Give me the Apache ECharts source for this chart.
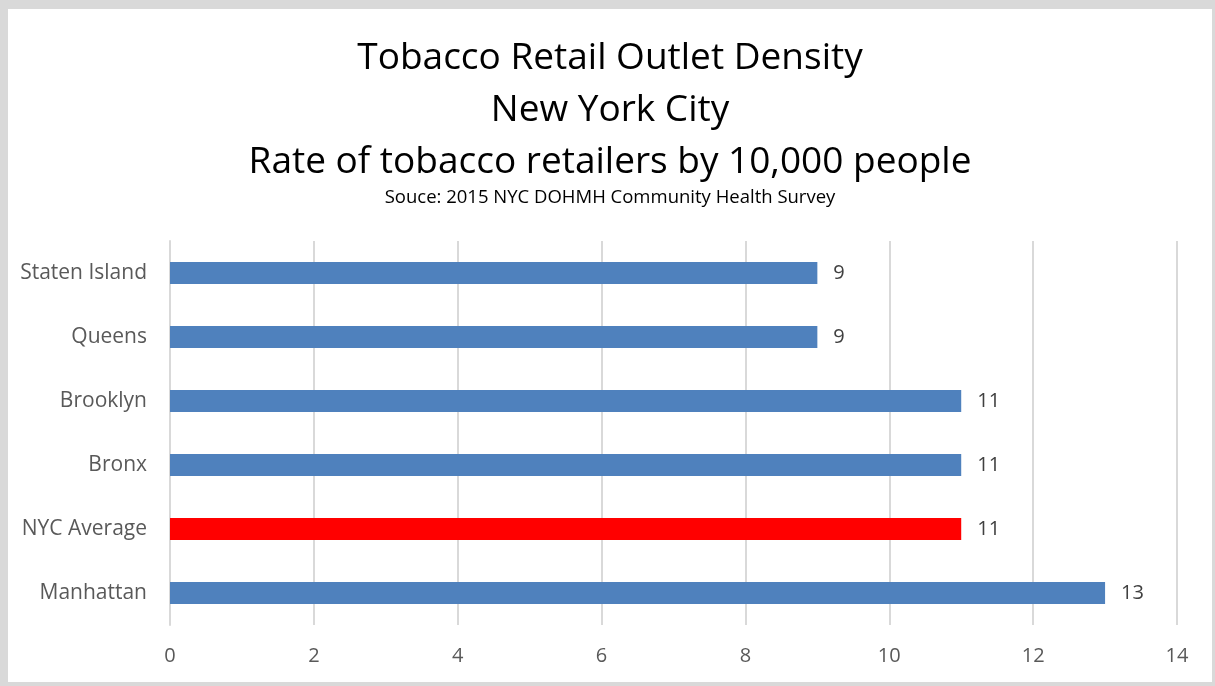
<!DOCTYPE html>
<html><head><meta charset="utf-8">
<script src="https://cdn.jsdelivr.net/npm/echarts@6/dist/echarts.min.js"></script>
<style>
html,body{margin:0;padding:0;background:#d9d9d9;width:1215px;height:686px;overflow:hidden;}
#c{position:absolute;left:8px;top:9px;width:1204px;height:673px;background:#fff;}
</style></head>
<body><div id="c"></div>
<script>
const categories = ['Staten Island','Queens','Brooklyn','Bronx','NYC Average','Manhattan'];
const values = [9, 9, 11, 11, 11, 13];
const highlight = 'NYC Average';
const xTicks = [0, 2, 4, 6, 8, 10, 12, 14];

const chart = echarts.init(document.getElementById('c'));
const font = '"Open Sans", sans-serif';
chart.setOption({
  backgroundColor: '#fff',
  animation: false,
  title: [
    {text: 'Tobacco Retail Outlet Density\nNew York City\nRate of tobacco retailers by 10,000 people',
     left: 'center', top: 18,
     textStyle: {fontFamily: font, fontSize: 37, fontWeight: 'normal', color: '#000', lineHeight: 52}},
    {text: 'Souce: 2015 NYC DOHMH Community Health Survey', left: 'center', top: 174,
     textStyle: {fontFamily: font, fontSize: 18.5, fontWeight: 'normal', color: '#000', lineHeight: 20}}
  ],
  grid: {left: 162, right: 35, top: 232, bottom: 57, containLabel: false},
  xAxis: {
    type: 'value', min: xTicks[0], max: xTicks[xTicks.length-1], interval: 2,
    axisLine: {show: false}, axisTick: {show: false},
    axisLabel: {fontFamily: font, fontSize: 20, color: '#595959', margin: 21},
    splitLine: {show: true, lineStyle: {color: '#d9d9d9', width: 2}}
  },
  yAxis: {
    type: 'category', data: categories, inverse: true,
    axisLine: {show: true, lineStyle: {color: '#d9d9d9', width: 2}},
    axisTick: {show: false},
    axisLabel: {fontFamily: font, fontSize: 21, color: '#595959', margin: 23}
  },
  series: [{
    type: 'bar', barWidth: 22,
    data: values.map((v, i) => ({value: v, itemStyle: {color: categories[i] === highlight ? '#ff0000' : '#4f81bd'}})),
    label: {show: true, position: 'right', distance: 16, fontFamily: font, fontSize: 20, color: '#404040'}
  }]
});
</script></body></html>
